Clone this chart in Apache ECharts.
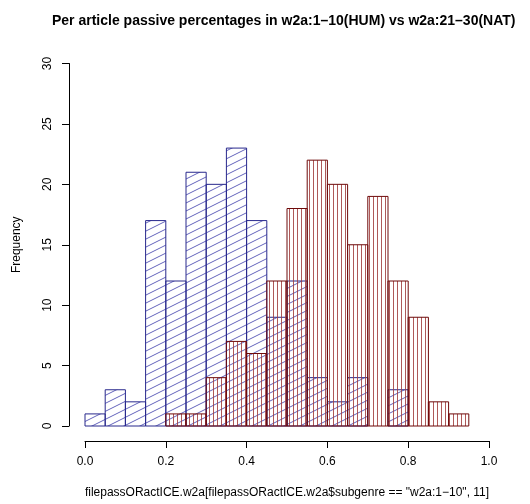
<!DOCTYPE html>
<html>
<head>
<meta charset="utf-8">
<script src="https://cdn.jsdelivr.net/npm/echarts@6/dist/echarts.min.js"></script>
<style>html,body{margin:0;padding:0;background:#fff;}#c{width:530px;height:504px;}</style>
</head>
<body>
<div id="c"></div>
<script>
// Bin left edges and right edges (histogram breaks)
const binStart = [0.00,0.05,0.10,0.15,0.20,0.25,0.30,0.35,0.40,0.45,0.50,0.55,0.60,0.65,0.70,0.75,0.80,0.85,0.90];
const binEnd   = [0.05,0.10,0.15,0.20,0.25,0.30,0.35,0.40,0.45,0.50,0.55,0.60,0.65,0.70,0.75,0.80,0.85,0.90,0.95];
// HUM counts (w2a:1-10)
const humCounts = [1,3,2,17,12,21,20,23,17,9,12,4,2,4,0,3,0,0,0];
// NAT counts (w2a:21-30)
const natCounts = [0,0,0,0,1,1,4,7,6,12,18,22,20,15,19,12,9,2,1];
const xTicks = [0.0,0.2,0.4,0.6,0.8,1.0];
const yTicks = [0,5,10,15,20,25,30];

const titleText = 'Per article passive percentages in w2a:1\u201310(HUM) vs w2a:21\u201330(NAT)';
const xName = 'filepassORactICE.w2a[filepassORactICE.w2a$subgenre == "w2a:1\u221210", 11]';
const yName = 'Frequency';

function diagPattern(color){
  const c = document.createElement('canvas');
  const W = 16, H = 8;
  c.width = W; c.height = H;
  const g = c.getContext('2d');
  g.strokeStyle = color; g.lineWidth = 1;
  for (let k=-1;k<=1;k++){
    g.beginPath(); g.moveTo(0, H + k*H); g.lineTo(W, 0 + k*H); g.stroke();
  }
  return {image: c, repeat: 'repeat'};
}
function vertPattern(color){
  const c = document.createElement('canvas');
  c.width = 4; c.height = 4;
  const g = c.getContext('2d');
  g.fillStyle = color;
  g.fillRect(1, 0, 1, 4);
  return {image: c, repeat: 'repeat'};
}

const bluePat = diagPattern('rgba(60,60,170,0.8)');
const redPat = vertPattern('rgba(160,60,60,0.85)');

function makeData(counts){
  const d = [];
  for (let i=0;i<counts.length;i++){
    if (counts[i] > 0) d.push([binStart[i], binEnd[i], counts[i]]);
  }
  return d;
}

function rectRenderer(fill, stroke){
  return function(params, api){
    const p0 = api.coord([api.value(0), api.value(2)]);
    const p1 = api.coord([api.value(1), 0]);
    return {
      type: 'rect',
      shape: {x: p0[0], y: p0[1], width: p1[0]-p0[0], height: p1[1]-p0[1]},
      style: {fill: fill, stroke: stroke, lineWidth: 1}
    };
  };
}

const chart = echarts.init(document.getElementById('c'), null, {renderer:'canvas'});
chart.setOption({
  backgroundColor: '#fff',
  animation: false,
  title: {
    text: titleText, left: 47, top: 9,
    textStyle: {fontFamily: 'Liberation Sans', fontWeight: 'bold', fontSize: 14, color: '#000'}
  },
  grid: {left: 85, right: 41, top: 63.5, bottom: 78, containLabel: false},
  xAxis: {
    type: 'value', min: 0, max: 1, interval: 0.2, offset: 15,
    name: xName, nameLocation: 'middle', nameGap: 46,
    nameTextStyle: {fontFamily: 'Liberation Sans', fontSize: 12, color: '#000'},
    axisLine: {show: true, onZero: false, lineStyle: {color: '#000', width: 1}},
    axisTick: {show: true, length: 7, lineStyle: {color: '#000'}},
    axisLabel: {margin: 15, fontFamily: 'Liberation Sans', fontSize: 12, color: '#000',
      formatter: v => v.toFixed(1), showMinLabel: true, showMaxLabel: true},
    splitLine: {show: false}
  },
  yAxis: {
    type: 'value', min: 0, max: 30, interval: 5, offset: 16,
    name: yName, nameLocation: 'middle', nameGap: 46,
    nameTextStyle: {fontFamily: 'Liberation Sans', fontSize: 12, color: '#000'},
    axisLine: {show: true, onZero: false, lineStyle: {color: '#000', width: 1}},
    axisTick: {show: true, length: 7, lineStyle: {color: '#000'}},
    axisLabel: {margin: 15, rotate: 90, fontFamily: 'Liberation Sans', fontSize: 12, color: '#000'},
    splitLine: {show: false}
  },
  series: [
    {type: 'custom', renderItem: rectRenderer(bluePat, 'rgb(40,40,140)'), data: makeData(humCounts),
     encode: {x: [0,1], y: 2}, clip: false},
    {type: 'custom', renderItem: rectRenderer(redPat, 'rgb(110,10,10)'), data: makeData(natCounts),
     encode: {x: [0,1], y: 2}, clip: false}
  ]
});
</script>
</body>
</html>
